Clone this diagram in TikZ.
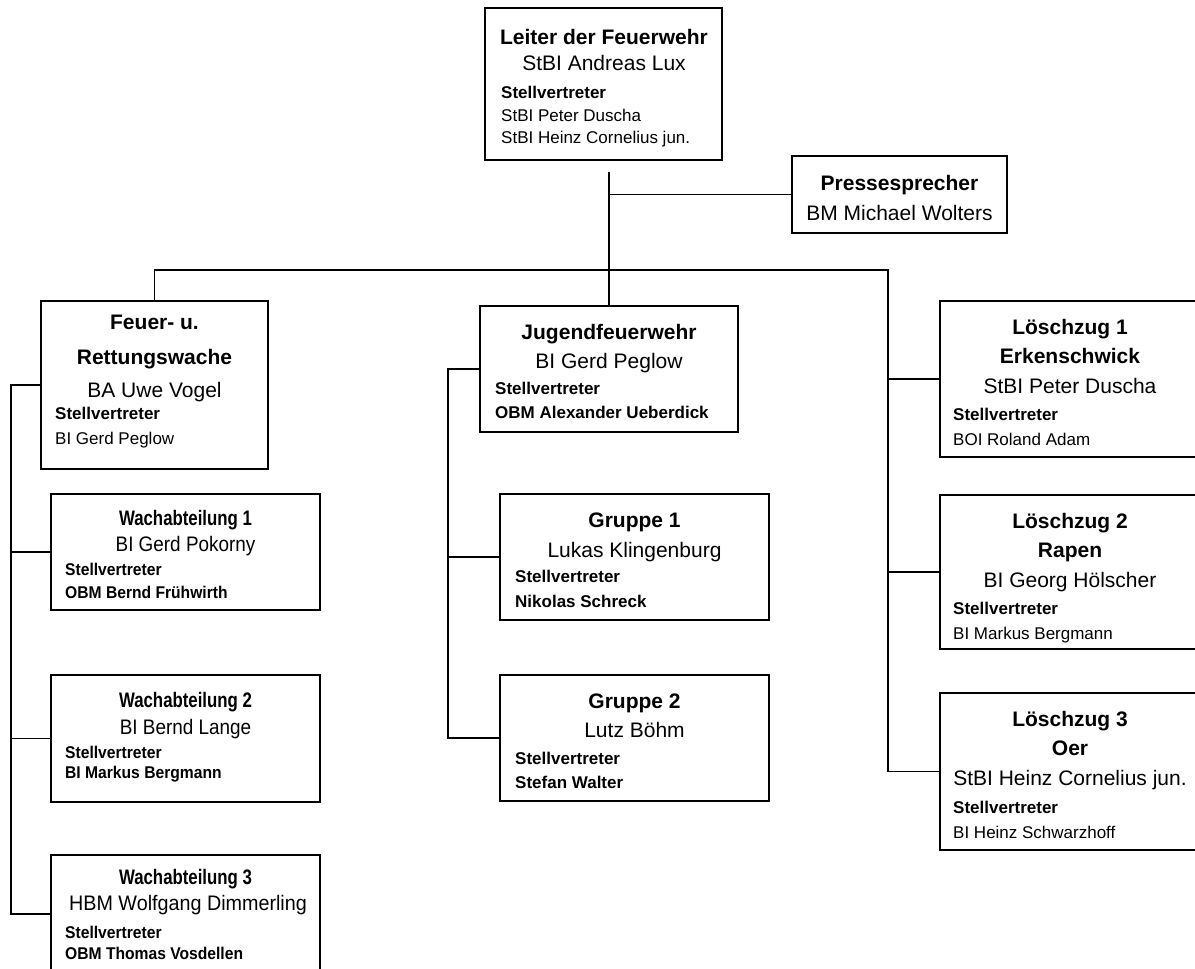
\documentclass[tikz,border=0pt]{standalone}
\usepackage{fontspec}
\setmainfont{Liberation Sans}
\usepackage{graphicx}
\newcommand{\wt}[1]{\scalebox{0.8}[1]{#1}}
\newcommand{\wn}[1]{\scalebox{0.9}[1]{#1}}
\newcommand{\ws}[1]{\scalebox{0.92}[1]{#1}}
\begin{document}
\begin{tikzpicture}[x=1pt,y=-1pt,
  box/.style={draw, line width=1.3pt, inner sep=0pt, outer sep=0pt, anchor=north west},
  conn/.style={line width=1.3pt},
  tb/.style={inner sep=0pt, anchor=base, font=\fontsize{21}{24}\selectfont\bfseries},
  tn/.style={inner sep=0pt, anchor=base, font=\fontsize{21}{24}\selectfont},
  sb/.style={inner sep=0pt, anchor=base west, font=\fontsize{17}{20}\selectfont\bfseries},
  sn/.style={inner sep=0pt, anchor=base west, font=\fontsize{17}{20}\selectfont}]
\useasboundingbox (0,0) rectangle (1195,969);
\clip (0,0) rectangle (1195,969);

% ---------- boxes ----------
\node[box, minimum width=237pt, minimum height=152pt] (leiter) at (485,8) {};
\node[box, minimum width=215pt, minimum height=77pt] (presse) at (792,156) {};
\node[box, minimum width=227pt, minimum height=168pt] (feuer) at (41,301) {};
\node[box, minimum width=269pt, minimum height=116pt] (wach1) at (51,494) {};
\node[box, minimum width=269pt, minimum height=127pt] (wach2) at (51,675) {};
\node[box, minimum width=269pt, minimum height=118pt] (wach3) at (51,855) {};
\node[box, minimum width=258pt, minimum height=126pt] (jugend) at (480,306) {};
\node[box, minimum width=269pt, minimum height=126pt] (gruppe1) at (500,494) {};
\node[box, minimum width=269pt, minimum height=126pt] (gruppe2) at (500,675) {};
\node[box, minimum width=260pt, minimum height=156pt] (lz1) at (940,301) {};
\node[box, minimum width=260pt, minimum height=154pt] (lz2) at (940,495) {};
\node[box, minimum width=260pt, minimum height=157pt] (lz3) at (940,693) {};

% ---------- connectors ----------
\coordinate (ttop) at (609,172);
\coordinate (busr) at (888,270);
\coordinate (lx) at (11,0);
\coordinate (jx) at (448,0);
\draw[conn] (ttop) -- (jugend.north);
\draw[conn] (ttop |- presse.west) -- (presse.west);
\draw[conn] (feuer.north) -- (feuer.north |- busr) -- (busr) -- (busr |- lz3.west) -- (lz3.west);
\draw[conn] (busr |- lz1.west) -- (lz1.west);
\draw[conn] (busr |- lz2.west) -- (lz2.west);
\draw[conn] (feuer.west) -- (feuer.west -| lx) -- (lx |- wach3.west) -- (wach3.west);
\draw[conn] (lx |- wach1.west) -- (wach1.west);
\draw[conn] (lx |- wach2.west) -- (wach2.west);
\draw[conn] (jugend.west) -- (jugend.west -| jx) -- (jx |- gruppe2.west) -- (gruppe2.west);
\draw[conn] (jx |- gruppe1.west) -- (gruppe1.west);

% ---------- texts ----------
% Leiter
\node[tb] (leiter-a) at (604,44) {Leiter der Feuerwehr};
\node[tn] (leiter-b) at (604,70) {StBI Andreas Lux};
\node[sb] (leiter-c) at (501,98) {Stellvertreter};
\node[sn] (leiter-d) at (501,121) {StBI Peter Duscha};
\node[sn] (leiter-e) at (501,143) {StBI Heinz Cornelius jun.};
% Presse
\node[tb] (presse-a) at (899.5,190) {Pressesprecher};
\node[tn] (presse-b) at (899.5,220) {BM Michael Wolters};
% Feuer
\node[tb] (feuer-a) at (154.5,329) {Feuer- u.};
\node[tb] (feuer-b) at (154.5,364) {Rettungswache};
\node[tn] (feuer-c) at (154.5,397) {BA Uwe Vogel};
\node[sb] (feuer-d) at (55,419) {Stellvertreter};
\node[sn] (feuer-e) at (55,444) {BI Gerd Peglow};
% Wach 1
\node[tb] (wach1-a) at (185.5,525) {\wt{Wachabteilung 1}};
\node[tn] (wach1-b) at (185.5,551) {\wn{BI Gerd Pokorny}};
\node[sb] (wach1-c) at (65,575) {\ws{Stellvertreter}};
\node[sb] (wach1-d) at (65,598) {\ws{OBM Bernd Frühwirth}};
% Wach 2
\node[tb] (wach2-a) at (185.5,707) {\wt{Wachabteilung 2}};
\node[tn] (wach2-b) at (185.5,734) {\wn{BI Bernd Lange}};
\node[sb] (wach2-c) at (65,758) {\ws{Stellvertreter}};
\node[sb] (wach2-d) at (65,778) {\ws{BI Markus Bergmann}};
% Wach 3
\node[tb] (wach3-a) at (185.5,884) {\wt{Wachabteilung 3}};
\node[tn] (wach3-b) at (188,910) {\scalebox{0.94}[1]{HBM Wolfgang Dimmerling}};
\node[sb] (wach3-c) at (65,938) {\ws{Stellvertreter}};
\node[sb] (wach3-d) at (65,959) {\ws{OBM Thomas Vosdellen}};
% Jugend
\node[tb] (jugend-a) at (609,339) {Jugendfeuerwehr};
\node[tn] (jugend-b) at (609,368) {BI Gerd Peglow};
\node[sb] (jugend-c) at (495,394) {Stellvertreter};
\node[sb] (jugend-d) at (495,418) {OBM Alexander Ueberdick};
% Gruppe 1
\node[tb] (gruppe1-a) at (634.5,527) {Gruppe 1};
\node[tn] (gruppe1-b) at (634.5,557) {Lukas Klingenburg};
\node[sb] (gruppe1-c) at (515,582) {Stellvertreter};
\node[sb] (gruppe1-d) at (515,607) {Nikolas Schreck};
% Gruppe 2
\node[tb] (gruppe2-a) at (634.5,708) {Gruppe 2};
\node[tn] (gruppe2-b) at (634.5,737) {Lutz Böhm};
\node[sb] (gruppe2-c) at (515,764) {Stellvertreter};
\node[sb] (gruppe2-d) at (515,788) {Stefan Walter};
% Loeschzug 1
\node[tb] (lz1-a) at (1070,334) {Löschzug 1};
\node[tb] (lz1-b) at (1070,363) {Erkenschwick};
\node[tn] (lz1-c) at (1070,393) {StBI Peter Duscha};
\node[sb] (lz1-d) at (953,420) {Stellvertreter};
\node[sn] (lz1-e) at (953,445) {BOI Roland Adam};
% Loeschzug 2
\node[tb] (lz2-a) at (1070,528) {Löschzug 2};
\node[tb] (lz2-b) at (1070,557) {Rapen};
\node[tn] (lz2-c) at (1070,587) {BI Georg Hölscher};
\node[sb] (lz2-d) at (953,614) {Stellvertreter};
\node[sn] (lz2-e) at (953,639) {BI Markus Bergmann};
% Loeschzug 3
\node[tb] (lz3-a) at (1070,726) {Löschzug 3};
\node[tb] (lz3-b) at (1070,755) {Oer};
\node[tn] (lz3-c) at (1070,785) {StBI Heinz Cornelius jun.};
\node[sb] (lz3-d) at (953,813) {Stellvertreter};
\node[sn] (lz3-e) at (953,838) {BI Heinz Schwarzhoff};
\end{tikzpicture}
\end{document}
